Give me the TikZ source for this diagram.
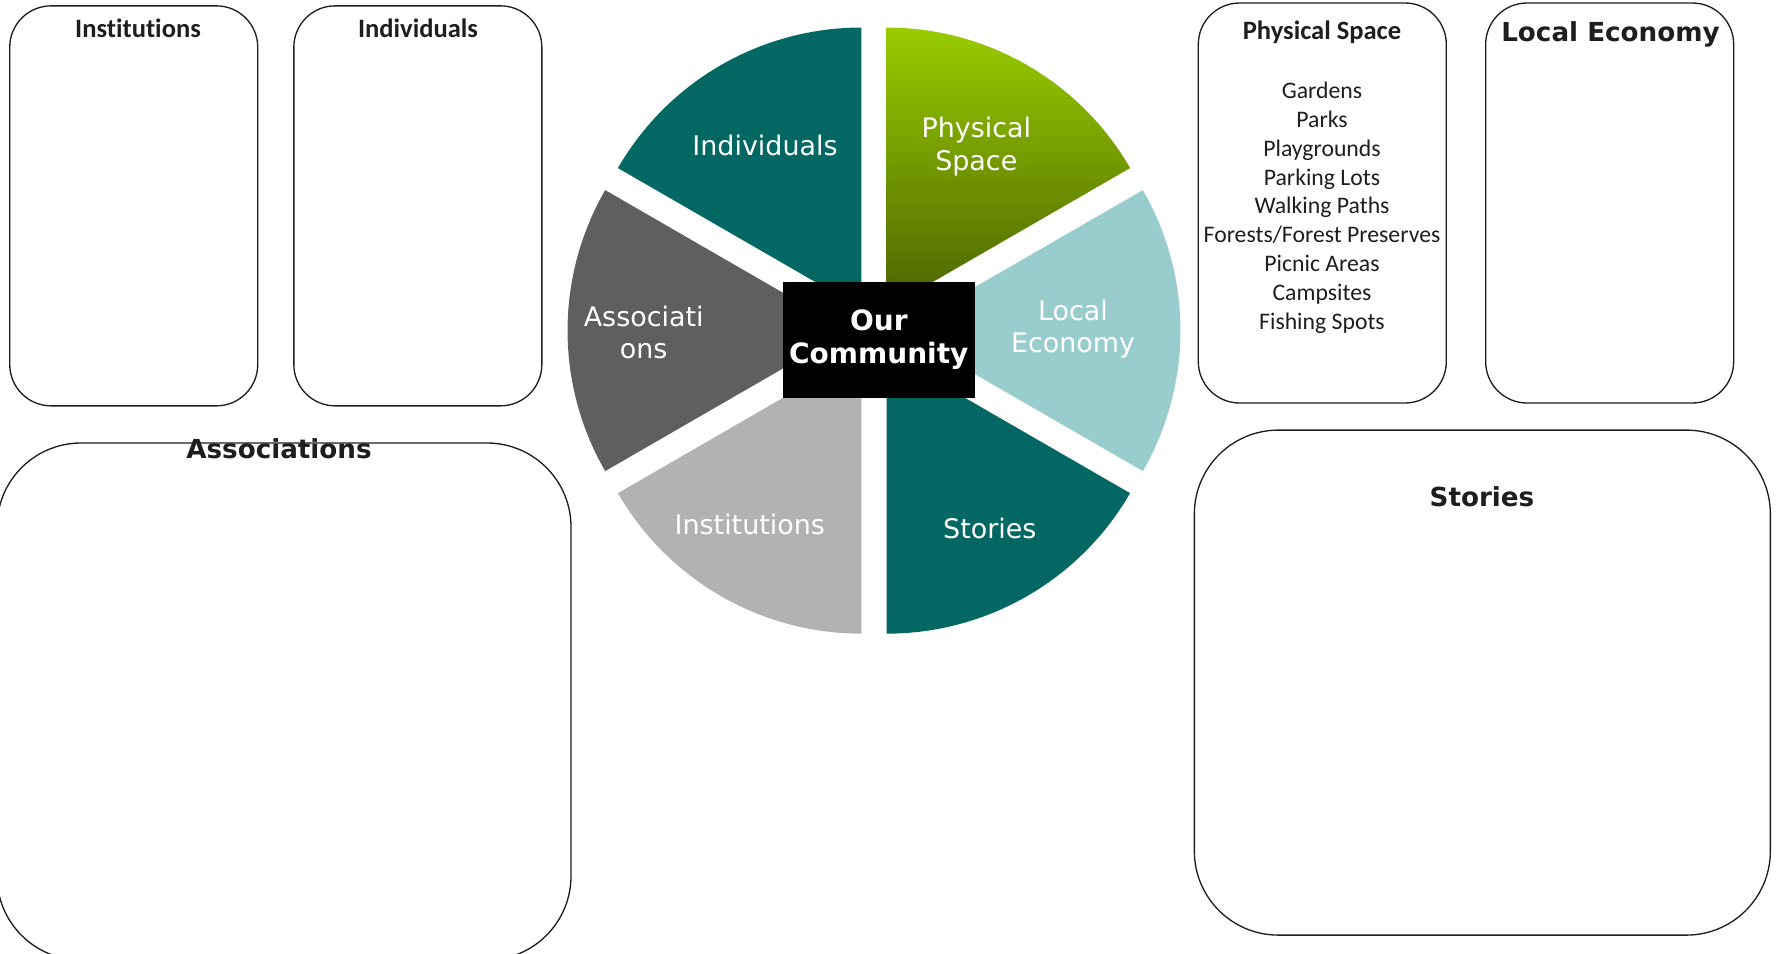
\documentclass[tikz,border=0pt]{standalone}
\usepackage{fontspec}
\setmainfont{Carlito}[Ligatures=NoCommon]
\newfontfamily\verdana{DejaVu Sans}
\usetikzlibrary{calc}
\definecolor{tealdark}{HTML}{036864}
\definecolor{tealpale}{HTML}{99CCCC}
\definecolor{greydark}{HTML}{5F5F5F}
\definecolor{greypale}{HTML}{B2B2B2}
\definecolor{limetop}{HTML}{99CC00}
\definecolor{limebottom}{HTML}{4A6300}
\definecolor{ink}{HTML}{1E1E1E}
\tikzstyle{panel} = [draw=ink, line width=1pt, rounded corners=31pt, minimum width=186pt, minimum height=300pt]
\tikzstyle{bigpanel} = [draw=ink, line width=1pt, rounded corners=63pt]
\tikzstyle{paneltitle} = [anchor=base, text=ink, inner sep=0pt, font=\bfseries\fontsize{19.9}{24}\selectfont]
\tikzstyle{widetitle} = [anchor=base, text=ink, inner sep=0pt, font=\verdana\bfseries\fontsize{19.65}{24}\selectfont]
\tikzstyle{slicelabel} = [text=white, align=center, inner sep=0pt, font=\verdana\fontsize{20.2}{24.5}\selectfont]

\begin{document}
\begin{tikzpicture}[x=0.75pt, y=-0.75pt]
\useasboundingbox (0,0) rectangle (1776,953);

% panels
\node[panel] (instbox) at (133.75,205.85) {};
\node[panel] (indivbox) at (417.85,205.85) {};
\node[panel] (physbox) at (1322.3,203) {};
\node[panel] (econbox) at (1609.65,203) {};
\node[bigpanel, minimum width=430.5pt, minimum height=387.75pt] (assocbox) at (284,701.5) {};
\node[bigpanel, minimum width=432pt, minimum height=378.75pt] (storybox) at (1482.35,682.6) {};

\node[paneltitle] (insttitle) at (138,37.8) {Institutions};
\node[paneltitle] (indivtitle) at (418,37.8) {Individuals};
\node[paneltitle] (phystitle) at (1322,39.3) {Physical Space};
\node[widetitle] (econtitle) at (1610.5,41.7) {Local Economy};
\node[widetitle] (assoctitle) at (279,458.4) {Associations};
\node[widetitle] (storytitle) at (1482,506.7) {Stories};

\node[align=center, inner sep=0pt, text=ink, font=\fontsize{17.8}{21.6}\selectfont] (physlist) at (1322,207.6)
  {Gardens\\Parks\\Playgrounds\\Parking Lots\\Walking Paths\\Forests/Forest Preserves\\Picnic Areas\\Campsites\\Fishing Spots};

% pie
\coordinate (hub) at (874,330.6);
\shade[top color=limetop, bottom color=limebottom] ($(hub)+(60:19.1pt)$) -- ++(30:210.75pt)
  arc[start angle=30, end angle=90, radius=210.75pt] -- cycle;
\foreach \a/\col in {90/tealdark, 150/greydark, 210/greypale, 270/tealdark, 330/tealpale}
  \fill[\col] ($(hub)+(\a+30:19.1pt)$) -- ++(\a:210.75pt)
    arc[start angle=\a, end angle=\a+60, radius=210.75pt] -- cycle;

\node[fill=black, text=white, align=center, minimum width=143.9pt, minimum height=86.8pt, inner sep=0pt,
  font=\verdana\bfseries\fontsize{21}{24.6}\selectfont] (hubbox) at (878.8,339.9) {Our\\Community};

\node[slicelabel] (lindiv) at (765,145.5) {Individuals};
\node[slicelabel] (lphys) at (976.3,146.5) {Physical\\Space};
\node[slicelabel] (lassoc) at (643.7,332.4) {Associati\\ons};
\node[slicelabel] (lecon) at (1073,329) {Local\\Economy};
\node[slicelabel] (linst) at (749.8,524.3) {Institutions};
\node[slicelabel] (lstory) at (989.8,528.5) {Stories};

\end{tikzpicture}
\end{document}
